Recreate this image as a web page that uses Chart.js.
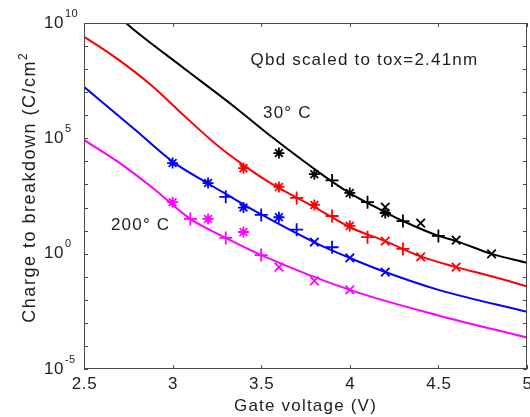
<!DOCTYPE html>
<html>
<head>
<meta charset="utf-8">
<script src="https://cdn.jsdelivr.net/npm/chart.js@4.4.0/dist/chart.umd.min.js"></script>
<style>
  body { margin: 0; background: #fff; }
  canvas { display: block; }
</style>
</head>
<body>
<canvas id="qbd-chart" width="530" height="417"></canvas>
<script>
// x ticks (gate voltage) and y decades
const xTickValues = [2.5, 3, 3.5, 4, 4.5, 5];
const yTickValues = [1e-5, 1e-4, 1e-3, 1e-2, 1e-1, 1, 1e1, 1e2, 1e3, 1e4, 1e5, 1e6, 1e7, 1e8, 1e9, 1e10];
const yLabelValues = [1e-5, 1, 1e5, 1e10];

// fitted curves
const blackLineV = [2.72, 2.79, 3.06, 3.35, 3.57, 3.83, 4.0, 4.2, 4.3, 4.5, 4.6, 4.8, 5.0];
const blackLineQ = [1.3e10, 4.5e9, 1.15e8, 2.3e6, 1.0e5, 3.2e3, 4.2e2, 63, 26, 5.9, 3.5, 0.98, 0.40];

const redLineV = [2.5, 2.69, 2.88, 3.03, 3.25, 3.4, 3.57, 3.83, 4.0, 4.2, 4.4, 4.6, 4.8, 5.0];
const redLineQ = [2.6e9, 2.7e8, 2.0e7, 1.7e6, 5.1e4, 6.9e3, 9.5e2, 78, 14, 3.5, 0.76, 0.26, 0.105, 0.038];

const blueLineV = [2.5, 2.79, 3.0, 3.2, 3.31, 3.5, 3.83, 4.0, 4.2, 4.5, 5.0];
const blueLineQ = [1.7e7, 2.3e5, 9.8e3, 1.1e3, 3.5e2, 50, 2.4, 0.65, 0.16, 0.027, 0.003];

const magentaLineV = [2.5, 2.69, 2.88, 3.1, 3.3, 3.5, 4.0, 4.5, 5.0];
const magentaLineQ = [8.5e4, 9.8e3, 7.9e2, 32, 4.8, 0.87, 0.027, 0.0021, 2.3e-4];

// measured points ('*', '+', 'x' markers)
const blackPointV = [3.6, 3.8, 4.0, 4.2, 3.9, 4.1, 4.3, 4.5, 4.2, 4.4, 4.6, 4.8];
const blackPointQ = [2.3e4, 2.8e3, 4.3e2, 58, 1.5e3, 1.7e2, 26, 5.9, 1.05e2, 21, 3.9, 0.98];
const blackPointMark = ['*', '*', '*', '*', '+', '+', '+', '+', 'x', 'x', 'x', 'x'];

const redPointV = [3.4, 3.6, 3.8, 4.0, 3.7, 3.9, 4.1, 4.3, 4.2, 4.4, 4.6];
const redPointQ = [5.1e3, 7.8e2, 1.3e2, 16, 2.6e2, 43, 5.2, 1.6, 3.5, 0.72, 0.26];
const redPointMark = ['*', '*', '*', '*', '+', '+', '+', '+', 'x', 'x', 'x'];

const bluePointV = [3.0, 3.2, 3.4, 3.6, 3.3, 3.5, 3.7, 3.9, 3.8, 4.0, 4.2];
const bluePointQ = [8.5e3, 1.15e3, 1.0e2, 38, 2.9e2, 48, 11, 1.9, 3.2, 0.65, 0.16];
const bluePointMark = ['*', '*', '*', '*', '+', '+', '+', '+', 'x', 'x', 'x'];

const magentaPointV = [3.0, 3.2, 3.4, 3.1, 3.3, 3.5, 3.6, 3.8, 4.0];
const magentaPointQ = [1.7e2, 32, 8.7, 32, 4.8, 0.87, 0.26, 0.066, 0.027];
const magentaPointMark = ['*', '*', '*', '+', '+', '+', 'x', 'x', 'x'];

const FONT = "'Liberation Sans', Arial, sans-serif";
const TEXT_COLOR = '#1e1e1e';

const markerStyle = { '*': 'star', '+': 'cross', 'x': 'crossRot' };
const markerSize = { '*': 5.5, '+': 6.5, 'x': 6 };

const toPoints = function(xs, ys){
    let res = [];
    for (let i = 0; i < xs.length; i++) {
        res.push({ x: xs[i], y: ys[i] });
    }
    return res;
}

const lineSet = function(xs, ys, color){
    return {
        data: toPoints(xs, ys),
        borderColor: color,
        borderWidth: 2,
        pointRadius: 0,
        cubicInterpolationMode: 'monotone',
        fill: false,
        order: 2
    };
}

const pointSet = function(xs, ys, marks, color){
    return {
        data: toPoints(xs, ys),
        showLine: false,
        borderColor: color,
        backgroundColor: 'rgba(0,0,0,0)',
        borderWidth: 1.8,
        pointStyle: marks.map(m => markerStyle[m]),
        pointRadius: marks.map(m => markerSize[m]),
        order: 1
    };
}

const drawSpaced = function(ctx, text, x, y, spacing){
    ctx.letterSpacing = spacing + 'px';
    ctx.fillText(text, x, y);
    let w = ctx.measureText(text).width;
    ctx.letterSpacing = '0px';
    return w;
}

const axesPlugin = {
    id: 'matlabAxes',
    afterDraw(chart){
        const ctx = chart.ctx;
        const area = chart.chartArea;
        const xs = chart.scales.x;
        const ys = chart.scales.y;

        ctx.save();
        ctx.strokeStyle = '#4a4a4a';
        ctx.lineWidth = 1;
        ctx.strokeRect(area.left + 0.5, area.top + 0.5, area.right - area.left - 1, area.bottom - area.top - 1);

        ctx.beginPath();
        for (const v of xTickValues) {
            let px = Math.round(xs.getPixelForValue(v)) + 0.5;
            ctx.moveTo(px, area.bottom);
            ctx.lineTo(px, area.bottom - 4);
            ctx.moveTo(px, area.top);
            ctx.lineTo(px, area.top + 4);
        }
        for (const v of yTickValues) {
            let py = Math.round(ys.getPixelForValue(v)) + 0.5;
            ctx.moveTo(area.left, py);
            ctx.lineTo(area.left + 4, py);
            ctx.moveTo(area.right, py);
            ctx.lineTo(area.right - 4, py);
        }
        ctx.stroke();

        ctx.fillStyle = TEXT_COLOR;

        // x tick labels
        ctx.font = '17px ' + FONT;
        ctx.textAlign = 'center';
        ctx.textBaseline = 'middle';
        for (const v of xTickValues) {
            drawSpaced(ctx, String(v), xs.getPixelForValue(v) + 0.5, area.bottom + 15, 0.6);
        }

        // y tick labels 10^n
        for (const v of yLabelValues) {
            let py = ys.getPixelForValue(v);
            ctx.font = '17px ' + FONT;
            ctx.textAlign = 'right';
            ctx.textBaseline = 'middle';
            drawSpaced(ctx, '10', area.left - 20, py, 0.6);
            ctx.font = '11px ' + FONT;
            ctx.textAlign = 'left';
            drawSpaced(ctx, String(Math.round(Math.log10(v))), area.left - 19, py - 9.5, 0.3);
        }

        // x title
        ctx.font = '17px ' + FONT;
        ctx.textAlign = 'center';
        ctx.textBaseline = 'alphabetic';
        drawSpaced(ctx, 'Gate voltage (V)', (area.left + area.right) / 2, area.bottom + 42, 1.2);

        // y title, rotated
        let mainText = 'Charge to breakdown (C/cm';
        ctx.font = '18px ' + FONT;
        ctx.letterSpacing = '1.5px';
        let w1 = ctx.measureText(mainText).width;
        ctx.font = '12px ' + FONT;
        ctx.letterSpacing = '0px';
        let w2 = ctx.measureText('2').width;
        ctx.save();
        ctx.translate(35, 188);
        ctx.rotate(-Math.PI / 2);
        ctx.textAlign = 'left';
        ctx.font = '18px ' + FONT;
        drawSpaced(ctx, mainText, -(w1 + w2) / 2, 0, 1.5);
        ctx.font = '12px ' + FONT;
        drawSpaced(ctx, '2', -(w1 + w2) / 2 + w1, -8, 0);
        ctx.restore();

        // annotations
        ctx.font = '17px ' + FONT;
        ctx.textAlign = 'left';
        ctx.textBaseline = 'alphabetic';
        drawSpaced(ctx, 'Qbd scaled to tox=2.41nm', xs.getPixelForValue(3.44), ys.getPixelForValue(1.5e8), 1.2);
        drawSpaced(ctx, '30° C', xs.getPixelForValue(3.51), ys.getPixelForValue(7.6e5), 1.2);
        drawSpaced(ctx, '200° C', xs.getPixelForValue(2.652), ys.getPixelForValue(10.7), 1.2);

        ctx.restore();
    }
};

const drawChart = function(){
    let ctx = document.getElementById('qbd-chart');

    let datasets = [
        lineSet(blackLineV, blackLineQ, '#000000'),
        lineSet(redLineV, redLineQ, '#ff0000'),
        lineSet(blueLineV, blueLineQ, '#0000ff'),
        lineSet(magentaLineV, magentaLineQ, '#ff00ff'),
        pointSet(blackPointV, blackPointQ, blackPointMark, '#000000'),
        pointSet(redPointV, redPointQ, redPointMark, '#ff0000'),
        pointSet(bluePointV, bluePointQ, bluePointMark, '#0000ff'),
        pointSet(magentaPointV, magentaPointQ, magentaPointMark, '#ff00ff')
    ];

    new Chart(ctx, {
        type: 'line',
        data: { datasets },
        options: {
            responsive: false,
            animation: false,
            events: [],
            layout: { autoPadding: false, padding: { top: 23, right: 3, left: 0, bottom: 0 } },
            plugins: {
                legend: { display: false },
                tooltip: { enabled: false }
            },
            scales: {
                x: {
                    type: 'linear',
                    min: 2.5,
                    max: 5,
                    grid: { display: false },
                    border: { display: false },
                    ticks: { display: false, stepSize: 0.5 },
                    afterFit: function(scale){ scale.height = 48; }
                },
                y: {
                    type: 'logarithmic',
                    min: 1e-5,
                    max: 1e10,
                    grid: { display: false },
                    border: { display: false },
                    ticks: { display: false },
                    afterBuildTicks: function(scale){
                        scale.ticks = yTickValues.map(v => ({ value: v }));
                    },
                    afterFit: function(scale){ scale.width = 84; }
                }
            }
        },
        plugins: [axesPlugin]
    });
}

drawChart();
</script>
</body>
</html>
